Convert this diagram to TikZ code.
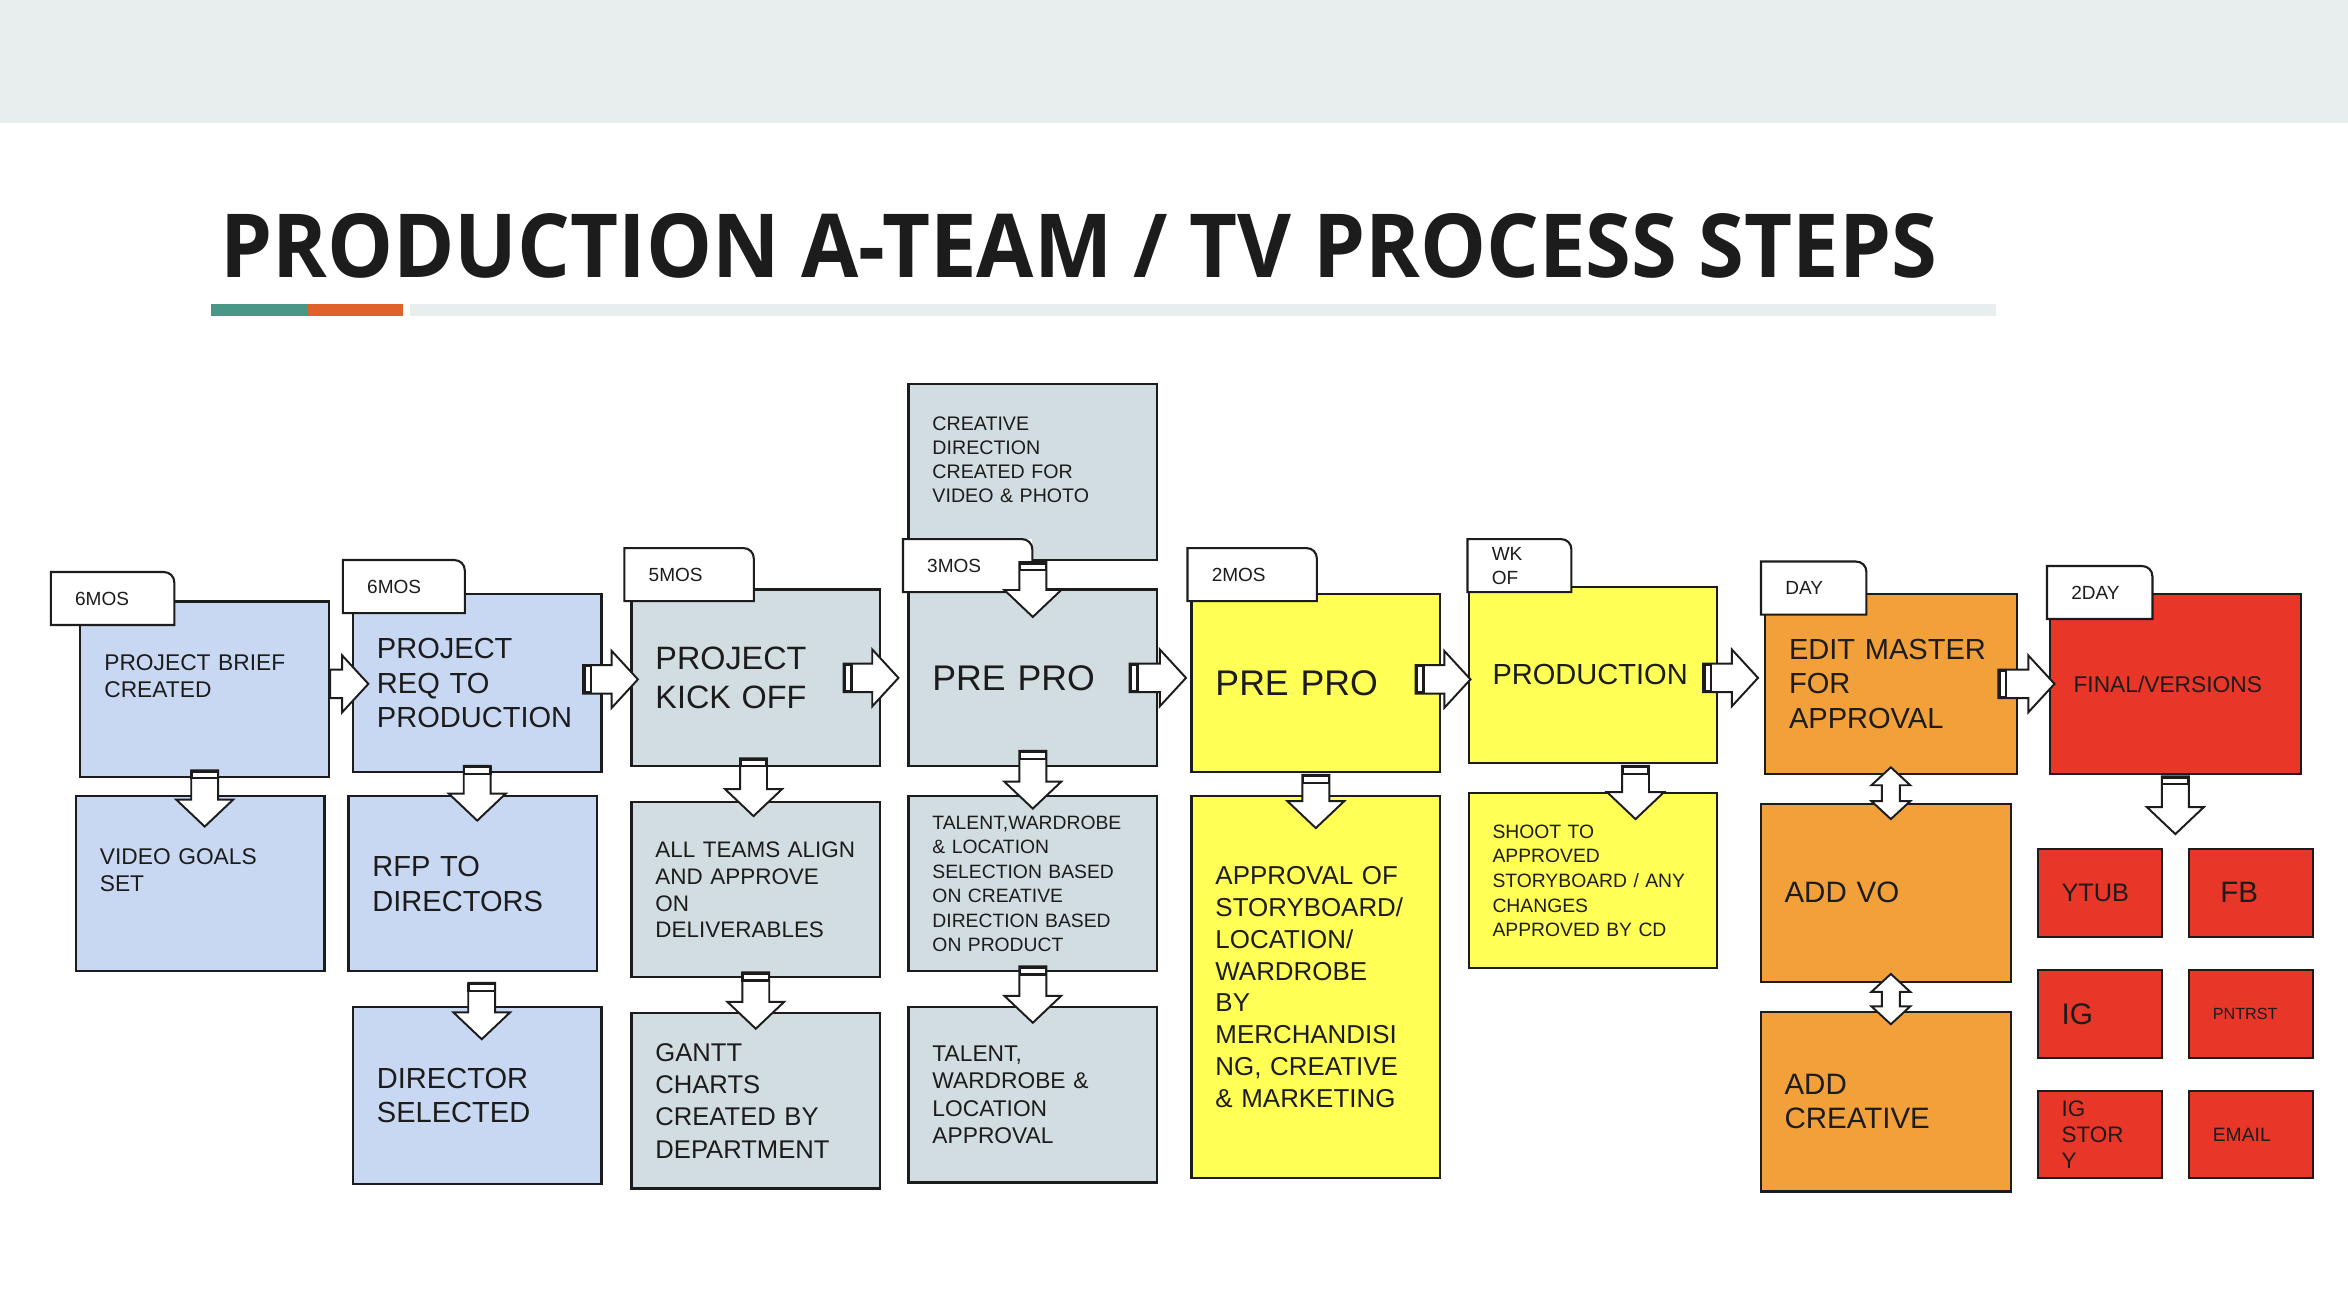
\documentclass[tikz,border=0pt]{standalone}
\usepackage{fontspec}
\setmainfont{Liberation Sans}
\newfontfamily\titlefont{Open Sans}
\usetikzlibrary{calc}
\definecolor{bandgray}{HTML}{E8EEEE}
\definecolor{barteal}{HTML}{4A9787}
\definecolor{barorange}{HTML}{E0622A}
\definecolor{boxblue}{HTML}{C9D8F2}
\definecolor{boxgray}{HTML}{D1DDE1}
\definecolor{boxyellow}{HTML}{FFFF55}
\definecolor{boxorange}{HTML}{F2A03A}
\definecolor{boxred}{HTML}{E83728}
\definecolor{inkblack}{HTML}{1C1C1C}
\newcommand{\boxfs}[2]{\fontsize{#1}{#2}\selectfont}

\begin{document}
\begin{tikzpicture}[x=1pt, y=-1pt,
  stepbox/.style={draw=inkblack, line width=1.4pt, anchor=north west, inner xsep=16pt, inner ysep=0pt,
    text width=134pt, minimum height=117pt, align=left, text=inkblack},
  bluebox/.style={stepbox, fill=boxblue},
  graybox/.style={stepbox, fill=boxgray},
  yellowbox/.style={stepbox, fill=boxyellow},
  orangebox/.style={stepbox, fill=boxorange, text width=136pt, minimum height=120pt},
  redbox/.style={stepbox, fill=boxred, text width=136pt, minimum height=120pt},
  chip/.style={stepbox, fill=boxred, text width=51pt, minimum height=59pt},
  tab/.style={fill=white, anchor=north west, inner xsep=16pt, inner ysep=0pt, minimum height=35pt,
    align=left, text=inkblack, font=\boxfs{12.7}{16}},
  tabline/.style={draw=inkblack, line width=1.4pt},
  hbar/.style={shape=rectangle, draw=inkblack, fill=white, line width=1.6pt, inner sep=0pt,
    minimum width=4.5pt, minimum height=17.5pt, anchor=west},
  vbar/.style={shape=rectangle, draw=inkblack, fill=white, line width=1.6pt, inner sep=0pt,
    minimum width=17.5pt, minimum height=4.5pt, anchor=north},
  harrow/.style={draw=inkblack, fill=white, line width=1.3pt, to path={
    let \p1=(\tikztostart), \p2=(\tikztotarget) in
    (\x1,\y1+9.5pt) -- (\x2-17.5pt,\y1+9.5pt) -- (\x2-17.5pt,\y1+19pt) -- (\x2,\y1)
    -- (\x2-17.5pt,\y1-19pt) -- (\x2-17.5pt,\y1-9.5pt) -- (\x1,\y1-9.5pt) -- cycle #1}},
  harrow/.default={},
  tailh/.style={harrow={(\x1,\y1) node[hbar] {}}},
  varrow/.style={draw=inkblack, fill=white, line width=1.3pt, to path={
    let \p1=(\tikztostart), \p2=(\tikztotarget) in
    (\x1-9pt,\y1) -- (\x1-9pt,\y2+18pt) -- (\x1-19pt,\y2+18pt) -- (\x1,\y2)
    -- (\x1+19pt,\y2+18pt) -- (\x1+9pt,\y2+18pt) -- (\x1+9pt,\y1) -- cycle
    (\x1,\y1) node[vbar] {}}},
  duoarrow/.style={draw=inkblack, fill=white, line width=1.3pt, to path={
    let \p1=(\tikztostart), \p2=(\tikztotarget) in
    (\x1,\y1) -- (\x1+13pt,\y1-12pt) -- (\x1+6pt,\y1-12pt) -- (\x1+6pt,\y2+12pt) -- (\x1+13pt,\y2+12pt)
    -- (\x1,\y2) -- (\x1-13pt,\y2+12pt) -- (\x1-6pt,\y2+12pt) -- (\x1-6pt,\y1-12pt) -- (\x1-13pt,\y1-12pt) -- cycle}}
]
  \useasboundingbox (0,0) rectangle (1568,877);
  \fill[white] (0,0) rectangle (1568,877);

  % header
  \fill[bandgray] (0,0) rectangle (1568,82);
  \node[anchor=base west, inner sep=0pt, text=inkblack, font=\titlefont\bfseries\fontsize{59}{59}\selectfont]
    (title) at (147,185) {\scalebox{0.94}[1]{PRODUCTION A-TEAM / TV PROCESS STEPS}};
  \fill[barteal] (141,203) rectangle (206,211);
  \fill[barorange] (206,203) rectangle (269,211);
  \fill[bandgray] (274,203) rectangle (1333,211);

  % column 1 and 2
  \node[bluebox, font=\boxfs{15.2}{18}] (brief) at (53,401) {PROJECT BRIEF\\CREATED\\\mbox{}};
  \node[bluebox, font=\boxfs{15.2}{18}] (goals) at (50,531) {VIDEO GOALS\\SET\\\mbox{}};
  \node[bluebox, minimum height=119pt, font=\boxfs{19.4}{23}] (req) at (235,396) {PROJECT\\REQ TO\\PRODUCTION};
  \node[bluebox, font=\boxfs{19.4}{23}] (rfp) at (232,531) {RFP TO\\DIRECTORS};
  \node[bluebox, minimum height=118pt, font=\boxfs{19.4}{23}] (director) at (235,672) {DIRECTOR\\SELECTED};

  % column 3 and 4
  \node[graybox, minimum height=118pt, font=\boxfs{21.6}{26}] (kick) at (421,393) {PROJECT\\KICK OFF};
  \node[graybox, font=\boxfs{15}{18}] (align) at (421,535) {ALL TEAMS ALIGN\\AND APPROVE\\ON\\DELIVERABLES};
  \node[graybox, font=\boxfs{17.1}{21.5}] (gantt) at (421,676) {GANTT\\CHARTS\\CREATED BY\\DEPARTMENT};
  \node[graybox, font=\boxfs{13.1}{16}] (creative) at (606,256) {CREATIVE\\DIRECTION\\CREATED FOR\\VIDEO \& PHOTO\\\mbox{}};
  \node[graybox, minimum height=118pt, font=\boxfs{23.8}{26}] (prepro) at (606,393) {PRE PRO};
  \node[graybox, font=\boxfs{12.9}{16.4}] (talent) at (606,531)
    {TALENT,WARDROBE\\\& LOCATION\\SELECTION BASED\\ON CREATIVE\\DIRECTION BASED\\ON PRODUCT};
  \node[graybox, font=\boxfs{15.2}{18.3}] (talentok) at (606,672) {TALENT,\\WARDROBE \&\\LOCATION\\APPROVAL};

  % column 5 and 6
  \node[yellowbox, minimum height=119pt, font=\boxfs{23.8}{26}] (prepro2) at (795,396) {PRE PRO};
  \node[yellowbox, minimum height=255pt, font=\boxfs{17.3}{21.3}] (approval) at (795,531)
    {APPROVAL OF\\STORYBOARD/\\LOCATION/\\WARDROBE\\BY\\MERCHANDISI\\NG, CREATIVE\\\& MARKETING};
  \node[yellowbox, minimum height=118pt, font=\boxfs{19.4}{23}] (production) at (980,391) {PRODUCTION};
  \node[yellowbox, font=\boxfs{12.9}{16.5}] (shoot) at (980,529)
    {SHOOT TO\\APPROVED\\STORYBOARD / ANY\\CHANGES\\APPROVED BY CD};

  % column 7 and 8
  \node[orangebox, font=\boxfs{19.4}{23}] (edit) at (1178,396) {EDIT MASTER\\FOR\\APPROVAL};
  \node[orangebox, text width=135pt, minimum height=119pt, font=\boxfs{19.7}{23}] (addvo) at (1175,536) {ADD VO};
  \node[orangebox, text width=135pt, font=\boxfs{19.7}{23}] (addcreative) at (1175,675) {ADD\\CREATIVE};
  \node[redbox, font=\boxfs{15.2}{18}] (final) at (1368,396) {FINAL/VERSIONS};
  \node[chip, font=\boxfs{16.9}{20}] (ytub) at (1360,566) {YTUB};
  \node[chip, inner xsep=21pt, text width=41pt, font=\boxfs{19.7}{22}] (fb) at (1461,566) {FB};
  \node[chip, font=\boxfs{19.9}{22}] (ig) at (1360,647) {IG};
  \node[chip, font=\boxfs{10.8}{13}] (pntrst) at (1461,647) {PNTRST};
  \node[chip, minimum height=58pt, font=\boxfs{15}{17.5}] (igstory) at (1360,728) {IG\\STOR\\Y};
  \node[chip, minimum height=58pt, font=\boxfs{12.9}{15}] (email) at (1461,728) {EMAIL};
  \coordinate (chiptop) at (1452,557);

  % time tabs
  \node[tab, text width=50pt] (tab1) at (34,382) {6MOS};
  \node[tab, text width=49pt] (tab2) at (229,374) {6MOS};
  \node[tab, text width=54pt] (tab3) at (417,366) {5MOS};
  \node[tab, text width=54pt] (tab4) at (603,360) {3MOS};
  \node[tab, text width=54pt] (tab5) at (793,366) {2MOS};
  \node[tab, text width=37pt] (tab6) at (980,360) {WK\\OF};
  \node[tab, text width=38pt] (tab7) at (1176,375) {DAY};
  \node[tab, text width=38pt] (tab8) at (1367,378) {2DAY};
  \foreach \i in {1,...,8}
    \draw[tabline] (tab\i.south west) -- (tab\i.north west) -- ([xshift=-7pt]tab\i.north east)
      .. controls ([xshift=-3pt]tab\i.north east) and ([yshift=-3pt]tab\i.north east) .. ([yshift=-7pt]tab\i.north east)
      -- (tab\i.south east) -- cycle;

  % flow along the top row
  \draw[harrow] ([yshift=3.5pt]brief.east) to ([xshift=11pt]req.west);
  \draw[tailh] ([xshift=-13pt,yshift=2.5pt]req.east) to ([xshift=5pt]kick.west);
  \draw[tailh] ([xshift=-25pt]kick.east) to ([xshift=-6pt]prepro.west);
  \draw[tailh] ([xshift=-19pt]prepro.east) to ([xshift=-3pt]prepro2.west);
  \draw[tailh] ([xshift=-17pt,yshift=2.5pt]prepro2.east) to ([xshift=2pt]production.west);
  \draw[tailh] ([xshift=-10pt,yshift=-2pt]production.east) to ([xshift=-4pt]edit.west);
  \draw[tailh] ([xshift=-13pt]edit.east) to ([xshift=4pt]final.west);

  % flow down the columns
  \draw[varrow] ([yshift=5pt]brief.south) to ([yshift=-21pt]goals.north);
  \draw[varrow] ([yshift=5pt]req.south) to ([yshift=-17pt]rfp.north);
  \draw[varrow] ([xshift=6pt,yshift=-7pt]rfp.south) to ([yshift=-22pt]director.north);
  \draw[varrow] ([xshift=-1.5pt,yshift=6pt]kick.south) to ([yshift=-10pt]align.north);
  \draw[varrow] ([yshift=4pt]align.south) to ([yshift=-11pt]gantt.north);
  \draw[varrow] ([yshift=-1pt]creative.south) to ([yshift=-19pt]prepro.north);
  \draw[varrow] ([yshift=11pt]prepro.south) to ([yshift=-9pt]talent.north);
  \draw[varrow] ([yshift=4pt]talent.south) to ([yshift=-11pt]talentok.north);
  \draw[varrow] ([yshift=-1pt]prepro2.south) to ([yshift=-22pt]approval.north);
  \draw[varrow] ([xshift=28.5pt,yshift=-1pt]production.south) to ([yshift=-18pt]shoot.north);
  \draw[varrow] ([yshift=-1pt]final.south) to (chiptop);
  \draw[duoarrow] ([yshift=5pt]edit.south) to ([yshift=-11pt]addvo.north);
  \draw[duoarrow] ([xshift=3.5pt,yshift=6pt]addvo.south) to ([yshift=-9pt]addcreative.north);
\end{tikzpicture}
\end{document}
